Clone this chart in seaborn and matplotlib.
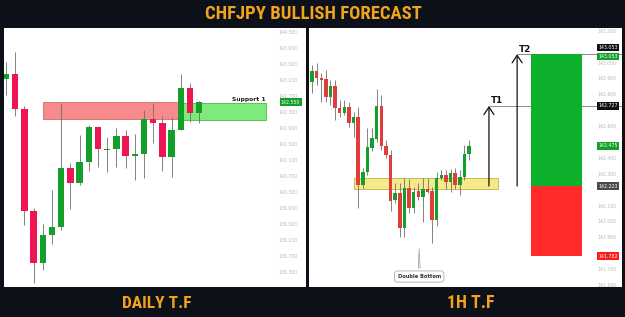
import numpy as np
import pandas as pd
import seaborn as sns
import matplotlib
matplotlib.use("Agg")
import matplotlib.pyplot as plt
import matplotlib.transforms as mtransforms
from matplotlib import font_manager

# ---------------- data ----------------
title_text = "CHFJPY BULLISH FORECAST"
panel_titles = ["DAILY T.F", "1H T.F"]

# Daily candles
d_open  = [143.125, 143.25, 142.375, 139.825, 138.525, 139.225, 139.425, 140.9, 140.525, 141.05, 141.925,
           141.36, 141.375, 141.7, 141.2, 141.25, 142.125, 142.025, 141.175, 141.85, 142.9, 142.275]
d_high  = [143.55, 143.8, 142.45, 139.9, 139.5, 140.35, 142.525, 141.025, 141.725, 141.975, 141.95,
           141.675, 141.9, 141.85, 141.75, 142.35, 142.525, 142.2, 142.175, 143.25, 143.025, 142.575]
d_low   = [142.725, 142.2, 139.475, 138.025, 138.35, 139.0, 139.35, 139.875, 140.475, 140.825, 140.925,
           140.8, 140.925, 140.9, 140.6, 140.65, 141.525, 140.825, 140.675, 141.85, 142.05, 142.025]
d_close = [143.25, 142.375, 139.825, 138.525, 139.225, 139.425, 140.9, 140.525, 141.05, 141.925, 141.375,
           141.375, 141.7, 141.2, 141.25, 142.125, 142.025, 141.175, 141.85, 142.9, 142.275, 142.55]
d_ticks = [144.3, 143.9, 143.5, 143.1, 142.7, 142.3, 141.9, 141.5, 141.1, 140.7, 140.3,
           139.9, 139.5, 139.1, 138.7, 138.3]
d_resistance_zone = (142.125, 142.55)
d_support_zone = (142.10, 142.525)
d_support_label = "Support 1"

# Hourly candles
h_open  = [142.880, 142.949, 142.903, 142.897, 142.786, 142.853, 142.714, 142.685, 142.721, 142.622, 142.658,
           142.229, 142.313, 142.462, 142.517, 142.727, 142.475, 142.418, 142.135, 142.179, 141.959, 142.210,
           142.084, 142.193, 142.154, 142.204, 142.193, 142.009, 142.273, 142.292, 142.250, 142.307, 142.229,
           142.280, 142.425]
h_high  = [142.985, 143.000, 142.935, 142.954, 142.891, 142.891, 142.765, 142.765, 142.754, 142.691, 142.723,
           142.336, 142.589, 142.589, 142.834, 142.796, 142.513, 142.450, 142.242, 142.242, 142.273, 142.267,
           142.219, 142.242, 142.273, 142.273, 142.219, 142.313, 142.324, 142.324, 142.330, 142.336, 142.324,
           142.481, 142.513]
h_low   = [142.809, 142.859, 142.752, 142.754, 142.733, 142.639, 142.660, 142.670, 142.597, 142.534, 142.084,
           142.210, 142.292, 142.444, 142.500, 142.450, 142.399, 142.067, 142.116, 141.902, 141.902, 142.055,
           142.055, 142.135, 141.998, 142.179, 141.866, 141.971, 142.261, 142.204, 142.187, 142.204, 142.166,
           142.261, 142.387]
h_close = [142.949, 142.902, 142.891, 142.786, 142.853, 142.714, 142.685, 142.723, 142.622, 142.658, 142.229,
           142.313, 142.469, 142.525, 142.727, 142.475, 142.418, 142.131, 142.179, 141.959, 142.210, 142.084,
           142.187, 142.156, 142.204, 142.187, 142.009, 142.273, 142.292, 142.250, 142.307, 142.229, 142.280,
           142.425, 142.475]
h_ticks = [143.2, 143.1, 143.0, 142.9, 142.8, 142.7, 142.6, 142.5, 142.4, 142.3, 142.2,
           142.1, 142.0, 141.9, 141.8, 141.7, 141.6]
h_zone = (142.202, 142.275)
h_entry = 142.223
h_t1 = 142.727
h_t2 = 143.053
h_stop = 141.782
h_target_names = ["T1", "T2"]
h_pattern_label = "Double Bottom"
h_pattern_point = (23.2, 141.845)

# ---------------- style ----------------
sns.set_theme(style="white")
plt.rcParams["font.family"] = ["DejaVu Sans"]

BG = "#0b1019"
ORANGE = "#f2a31c"
GREEN = "#12a02a"
RED_D = "#ec1652"
RED_H = "#e03c3c"
WICK = "#6e6e6e"
TICKC = "#b8b8b8"


def pick_font(cands):
    for f in cands:
        try:
            font_manager.findfont(font_manager.FontProperties(family=f, weight="bold"),
                                  fallback_to_default=False)
            return f
        except Exception:
            continue
    return "DejaVu Sans"


HEAD_FONT = pick_font(["Liberation Sans Narrow", "DejaVu Sans Condensed", "Roboto Condensed",
                       "Open Sans Condensed", "Roboto"])

fig = plt.figure(figsize=(6.25, 3.17), dpi=100, facecolor=BG)
axL = fig.add_axes([3.5 / 625, 30 / 317, 302.5 / 625, 259 / 317])
axR = fig.add_axes([309 / 625, 30 / 317, 313 / 625, 259 / 317])


def candles(ax, o, h, l, c, width, up, down, min_body):
    o, h, l, c = map(np.asarray, (o, h, l, c))
    x = np.arange(len(o))
    df = pd.DataFrame({"x": x, "o": o, "h": h, "l": l, "c": c})
    df["bottom"] = np.minimum(df.o, df.c)
    df["height"] = np.maximum(np.abs(df.c - df.o), min_body)
    cols = np.where(df.c >= df.o, up, down)
    ax.vlines(df.x, df.l, df.h, color=WICK, lw=0.6, zorder=3)
    ax.bar(df.x, df.height, bottom=df.bottom, width=width, color=cols, linewidth=0, zorder=4)


def style_axis(ax, ticks, pad, hidden, hide_within):
    ax.set_facecolor("white")
    for s in ax.spines.values():
        s.set_visible(False)
    ax.set_xticks([])
    shown = [t for t in ticks if min(abs(t - v) for v in hidden) > hide_within]
    ax.set_yticks(shown)
    ax.set_yticklabels([f"{t:.3f}" for t in shown])
    ax.yaxis.tick_right()
    ax.tick_params(axis="y", length=0, pad=pad, labelsize=3.3, labelcolor=TICKC)


def price_box(ax, value, text, fc, x=0.955, dy=0, tc="white"):
    tr = mtransforms.blended_transform_factory(ax.transAxes, ax.transData)
    ax.annotate(text, xy=(x, value), xycoords=tr, xytext=(0, dy), textcoords="offset points",
                ha="center", va="center", fontsize=3.4, color=tc, zorder=10,
                bbox=dict(boxstyle="square,pad=0.25", fc=fc, ec="none"))


# ---------------- daily panel ----------------
style_axis(axL, d_ticks, -20, [d_close[-1]], 0.14)
axL.set_xlim(-0.27, 32.6)
axL.set_ylim(137.925, 144.4)
axL.fill_between([4.0, 18.9], *d_resistance_zone, fc="#f78b8b", ec="#d46a6a", lw=0.6, zorder=1)
axL.fill_between([18.9, 28.3], *d_support_zone, fc="#7ceb7c", ec="#4cb84c", lw=0.6, zorder=1)
candles(axL, d_open, d_high, d_low, d_close, 0.7, GREEN, RED_D, 0.02)
axL.annotate(d_support_label, xy=(28.2, d_support_zone[1]), xytext=(0, 1), textcoords="offset points",
             ha="right", va="bottom", fontsize=4.3, fontweight="bold", color="#222222", zorder=6)
price_box(axL, d_close[-1], f"{d_close[-1]:.3f}", GREEN, x=0.949)

# ---------------- hourly panel ----------------
style_axis(axR, h_ticks, -18, [h_t2, h_t1, h_close[-1], h_entry, h_stop], 0.05)
axR.set_xlim(-0.65, 67.1)
axR.set_ylim(141.587, 143.218)
axR.fill_between([9.1, 40.3], *h_zone, fc="#f6e98c", ec="#c4b13c", lw=0.6, zorder=1)
candles(axR, h_open, h_high, h_low, h_close, 0.75, GREEN, RED_H, 0.004)

# target / stop boxes
axR.bar(52.9, h_t2 - h_entry, bottom=h_entry, width=11, color="#0db02b", linewidth=0, zorder=5)
axR.bar(52.9, h_entry - h_stop, bottom=h_stop, width=11, color="#ff2b2b", linewidth=0, zorder=5)

# target arrows
for xa, lvl, name in [(38.3, h_t1, h_target_names[0]), (44.4, h_t2, h_target_names[1])]:
    axR.hlines(lvl, xa, 67.1, color="#777777", lw=0.6, zorder=2)
    axR.annotate("", xy=(xa, lvl), xytext=(xa, h_entry),
                 arrowprops=dict(arrowstyle="->,head_length=0.45,head_width=0.3", color="#111111",
                                 lw=0.9, shrinkA=0, shrinkB=0), zorder=6)
    axR.annotate(name, xy=(xa, lvl), xytext=(1.5, 0.5), textcoords="offset points",
                 ha="left", va="bottom", fontsize=6.3, fontweight="bold", color="#111111", zorder=6)

axR.annotate(h_pattern_label, xy=h_pattern_point, xytext=(h_pattern_point[0], 141.653),
             ha="center", va="center", fontsize=3.7, fontweight="bold", color="#333333", zorder=7,
             bbox=dict(boxstyle="round,pad=0.6", fc="white", ec="#aaaaaa", lw=0.6),
             arrowprops=dict(arrowstyle="wedge,tail_width=0.35,shrink_factor=0.5", fc="white",
                             ec="#999999", lw=0.5))

price_box(axR, h_t2, f"{h_t2:.3f}", "#111111", dy=4.6)
price_box(axR, h_t2, f"{h_t2:.3f}", GREEN, dy=-1.6)
price_box(axR, h_t1, f"{h_t1:.3f}", "#111111")
price_box(axR, h_close[-1], f"{h_close[-1]:.3f}", GREEN)
price_box(axR, h_entry, f"{h_entry:.3f}", "#4a4a4a")
price_box(axR, h_stop, f"{h_stop:.3f}", "#ff1a1a")

# ---------------- headings (sized to the reference widths) ----------------
renderer = fig.canvas.get_renderer()


def heading(x, y, s, target_w):
    t = fig.text(x / 625, 1 - y / 317, s, ha="center", va="center", color=ORANGE,
                 fontsize=12, fontweight="bold", family=[HEAD_FONT, "DejaVu Sans"])
    w = t.get_window_extent(renderer).width
    t.set_fontsize(min(16, 12 * target_w / w))
    return t


heading(313, 14, title_text, 216)
heading(157, 303.5, panel_titles[0], 69)
heading(471, 303.5, panel_titles[1], 47)

fig.savefig("out.png", dpi=100, facecolor=BG)
